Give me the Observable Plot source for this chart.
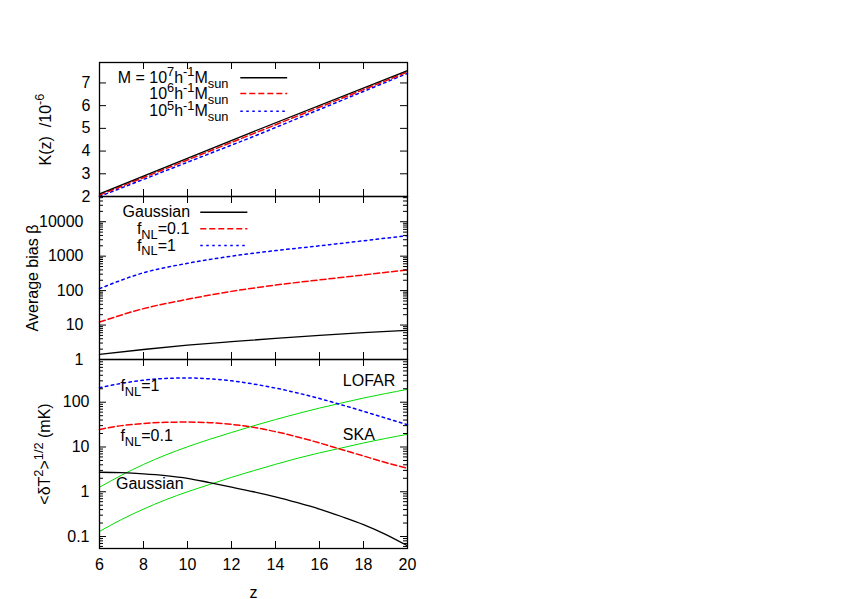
<!DOCTYPE html>
<html><head><meta charset="utf-8">
<script src="https://cdn.jsdelivr.net/npm/d3@7"></script>
<script src="https://cdn.jsdelivr.net/npm/@observablehq/plot@0.6"></script>
<style>
body{margin:0;background:#fff;}
#chart{position:relative;width:856px;height:599px;}
#chart svg{position:absolute;left:0;}
</style></head><body><div id="chart"></div>
<script>
// ---------- data ----------
const xTicks = [6, 8, 10, 12, 14, 16, 18, 20];
// top panel: K(z) / 1e-6
const zK = [6, 13, 20];
const kM7 = [2.12, 4.86, 7.54];
const kM6 = [2.06, 4.77, 7.48];
const kM5 = [2.00, 4.64, 7.42];
const kTicks = [2, 3, 4, 5, 6, 7];
const kLegendLabels = ["M = 10^{7}h^{-1}M_{sun}", "10^{6}h^{-1}M_{sun}", "10^{5}h^{-1}M_{sun}"];
const kLegendY = [7.23, 6.53, 5.75];
// middle panel: average bias
const zB = [6, 8, 10, 12, 14, 16, 18, 20];
const bGauss = [1.4, 1.95, 2.6, 3.3, 4.1, 5.0, 6.0, 7.0];
const bF01 = [12.2, 30, 56, 95, 145, 205, 285, 400];
const bF1 = [114, 330, 620, 1000, 1450, 2000, 2800, 3940];
const bTicks = [1, 10, 100, 1000, 10000];
const bLegendLabels = ["Gaussian", "f_{NL}=0.1", "f_{NL}=1"];
const bLegendY = [18900, 6220, 2040];
// bottom panel: <dT^2>^1/2 (mK)
const zT = [6, 7, 8, 9, 10, 11, 12, 13, 14, 15, 16, 17, 18, 19, 20];
const tF1 = [210, 264, 310, 340, 348, 333, 300, 255, 207, 161, 121, 87.5, 62.7, 44.4, 31.4];
const tF01 = [24.6, 30, 33.5, 35.5, 36, 35, 32, 27.5, 22, 16.8, 12.3, 8.8, 6.3, 4.5, 3.35];
const tGauss = [2.73, 2.67, 2.52, 2.30, 2.0, 1.6, 1.27, 1.0, 0.77, 0.57, 0.41, 0.28, 0.185, 0.112, 0.062];
const tLOFAR = [1.26, 2.34, 4.07, 6.6, 10.1, 14.8, 21.1, 29.7, 41, 55.6, 74, 96, 124, 156, 194];
const tSKA = [0.13, 0.24, 0.41, 0.66, 1.0, 1.45, 2.1, 2.95, 4.1, 5.6, 7.4, 9.5, 12.3, 15.5, 19.2];
const tTicks = [0.1, 1, 10, 100];
const tLabels = ["f_{NL}=1", "f_{NL}=0.1", "Gaussian", "LOFAR", "SKA"];
const tLabelZ = [6.95, 6.95, 6.75, 17.06, 17.06];
const tLabelV = [228, 17.4, 1.5, 305, 19];

// ---------- styling ----------
const FONT = "'Liberation Sans', Arial, Helvetica, sans-serif";
const W = 308, ML = 99, MR = 856 - 99 - 308;
const st = {background: "transparent", overflow: "visible", fontFamily: FONT, fontSize: "16px", color: "black"};
const RED = "#ff0000", BLUE = "#0000ff", GREEN = "#00dd00";
const DASH = "6,3", DOT = "2.5,3.5";
const SERIES = [
  {stroke: "black", strokeWidth: 1.3, strokeDasharray: null},
  {stroke: RED, strokeWidth: 1.5, strokeDasharray: DASH},
  {stroke: BLUE, strokeWidth: 1.5, strokeDasharray: DOT}
];

function rows(xs, ys) { return xs.map((x, i) => ({x, y: ys[i]})); }
function minorLog(lo, hi) {
  const out = [];
  for (let e = Math.floor(Math.log10(lo)); e <= Math.ceil(Math.log10(hi)); e++)
    for (let m = 2; m <= 9; m++) { const v = m * Math.pow(10, e); if (v > lo && v < hi) out.push(v); }
  return out;
}
function frameTicks(H, yMajor, yMinor) {
  const marks = [
    Plot.tickX(xTicks, {x: d => d, insetBottom: H - 7, strokeWidth: 1}),
    Plot.tickX(xTicks, {x: d => d, insetTop: H - 7, strokeWidth: 1}),
    Plot.tickY(yMajor, {y: d => d, insetRight: W - 7, strokeWidth: 1}),
    Plot.tickY(yMajor, {y: d => d, insetLeft: W - 7, strokeWidth: 1})
  ];
  if (yMinor) {
    marks.push(Plot.tickY(yMinor, {y: d => d, insetRight: W - 4, strokeWidth: 1}));
    marks.push(Plot.tickY(yMinor, {y: d => d, insetLeft: W - 4, strokeWidth: 1}));
  }
  return marks;
}
function legendLines(ys, x1, x2) {
  return ys.map((y, i) => Plot.link([y], {x1, x2, y1: d => d, y2: d => d, ...SERIES[i], strokeWidth: 1.5}));
}
function yLabel(text, dx) {
  return Plot.text([text], {frameAnchor: "left", dx, rotate: -90, text: d => d, textAnchor: "middle", lineAnchor: "middle", fontSize: 16});
}

// rich text: ^{..} superscript, _{..} subscript
function rich(svg) {
  svg.querySelectorAll("text").forEach(t => {
    const s = t.textContent;
    if (!/[\^_]\{/.test(s)) return;
    const parts = []; const re = /([\^_])\{([^}]*)\}/g; let last = 0, m;
    while ((m = re.exec(s))) {
      if (m.index > last) parts.push({s: s.slice(last, m.index), k: 0});
      parts.push({s: m[2], k: m[1] === "^" ? 1 : -1});
      last = re.lastIndex;
    }
    if (last < s.length) parts.push({s: s.slice(last), k: 0});
    t.textContent = "";
    const fs = 16; let cur = 0;
    parts.forEach(p => {
      const ts = document.createElementNS("http://www.w3.org/2000/svg", "tspan");
      const shift = p.k === 1 ? 0.4 * fs : p.k === -1 ? -0.3 * fs : 0;
      if (shift !== cur) { ts.setAttribute("dy", String(cur - shift)); cur = shift; }
      if (p.k) ts.setAttribute("font-size", String(0.8 * fs));
      ts.textContent = p.s;
      t.appendChild(ts);
    });
  });
}

const chart = document.getElementById("chart");
function place(svg, top) { svg.style.top = top + "px"; chart.appendChild(svg); rich(svg); }

// ---------- top panel ----------
const H1 = 134;
const p1 = Plot.plot({
  width: 856, height: 62 + H1, marginTop: 62, marginBottom: 0, marginLeft: ML, marginRight: MR,
  x: {domain: [6, 20], axis: null},
  y: {domain: [2, 7.9]},
  style: st,
  marks: [
    Plot.line(rows(zK, kM5), {x: "x", y: "y", ...SERIES[2]}),
    Plot.line(rows(zK, kM6), {x: "x", y: "y", ...SERIES[1]}),
    Plot.line(rows(zK, kM7), {x: "x", y: "y", ...SERIES[0]}),
    Plot.text(kLegendLabels, {x: 11.86, y: (d, i) => kLegendY[i], text: d => d, textAnchor: "end", lineAnchor: "middle", fontSize: 16}),
    ...legendLines(kLegendY, 12.4, 14.53),
    ...frameTicks(H1, kTicks),
    Plot.axisY(kTicks, {tickSize: 0, tickPadding: 9, fontSize: 16, label: null}),
    yLabel("K(z)  /10^{-6}", -54),
    Plot.frame({stroke: "black", strokeWidth: 1.3})
  ]
});
place(p1, 0);

// ---------- middle panel ----------
const H2 = 163;
const bDom = [1, 54000];
const p2 = Plot.plot({
  width: 856, height: H2, marginTop: 0, marginBottom: 0, marginLeft: ML, marginRight: MR,
  x: {domain: [6, 20], axis: null},
  y: {type: "log", domain: bDom},
  style: st,
  marks: [
    Plot.line(rows(zB, bF1), {x: "x", y: "y", ...SERIES[2], curve: "monotone-x"}),
    Plot.line(rows(zB, bF01), {x: "x", y: "y", ...SERIES[1], curve: "monotone-x"}),
    Plot.line(rows(zB, bGauss), {x: "x", y: "y", ...SERIES[0], curve: "monotone-x"}),
    Plot.text([bLegendLabels[0]], {x: 10.12, y: bLegendY[0], text: d => d, textAnchor: "end", lineAnchor: "middle", fontSize: 16}),
    Plot.text(bLegendLabels.slice(1), {x: 7.7, y: (d, i) => bLegendY[i + 1], text: d => d, textAnchor: "start", lineAnchor: "middle", fontSize: 16}),
    ...legendLines(bLegendY, 10.58, 12.72),
    ...frameTicks(H2, bTicks, minorLog(bDom[0], bDom[1])),
    Plot.axisY(bTicks, {tickSize: 0, tickPadding: 16, fontSize: 16, label: null, tickFormat: d => String(d)}),
    yLabel("Average bias β", -67),
    Plot.frame({stroke: "black", strokeWidth: 1.3})
  ]
});
place(p2, 62 + H1);

// ---------- bottom panel ----------
const H3 = 189;
const tDom = [0.054, 900];
const p3 = Plot.plot({
  width: 856, height: H3 + 51, marginTop: 0, marginBottom: 51, marginLeft: ML, marginRight: MR,
  x: {domain: [6, 20]},
  y: {type: "log", domain: tDom},
  style: st,
  marks: [
    Plot.line(rows(zT, tLOFAR), {x: "x", y: "y", stroke: GREEN, strokeWidth: 1, curve: "monotone-x"}),
    Plot.line(rows(zT, tSKA), {x: "x", y: "y", stroke: GREEN, strokeWidth: 1, curve: "monotone-x"}),
    Plot.line(rows(zT, tF1), {x: "x", y: "y", ...SERIES[2], curve: "monotone-x"}),
    Plot.line(rows(zT, tF01), {x: "x", y: "y", ...SERIES[1], curve: "monotone-x"}),
    Plot.line(rows(zT, tGauss), {x: "x", y: "y", ...SERIES[0], curve: "monotone-x"}),
    Plot.text(tLabels, {x: (d, i) => tLabelZ[i], y: (d, i) => tLabelV[i], text: d => d, textAnchor: "start", lineAnchor: "middle", fontSize: 16}),
    ...frameTicks(H3, tTicks, minorLog(tDom[0], tDom[1])),
    Plot.axisY(tTicks, {tickSize: 0, tickPadding: 10, fontSize: 16, label: null, tickFormat: d => String(d)}),
    Plot.axisX(xTicks, {tickSize: 0, tickPadding: 10, fontSize: 16, label: null}),
    yLabel("<δT^{2}>^{1/2} (mK)", -55),
    Plot.text(["z"], {frameAnchor: "bottom", dy: 44, text: d => d, textAnchor: "middle", lineAnchor: "middle", fontSize: 16}),
    Plot.frame({stroke: "black", strokeWidth: 1.3})
  ]
});
place(p3, 62 + H1 + H2);
</script></body></html>
